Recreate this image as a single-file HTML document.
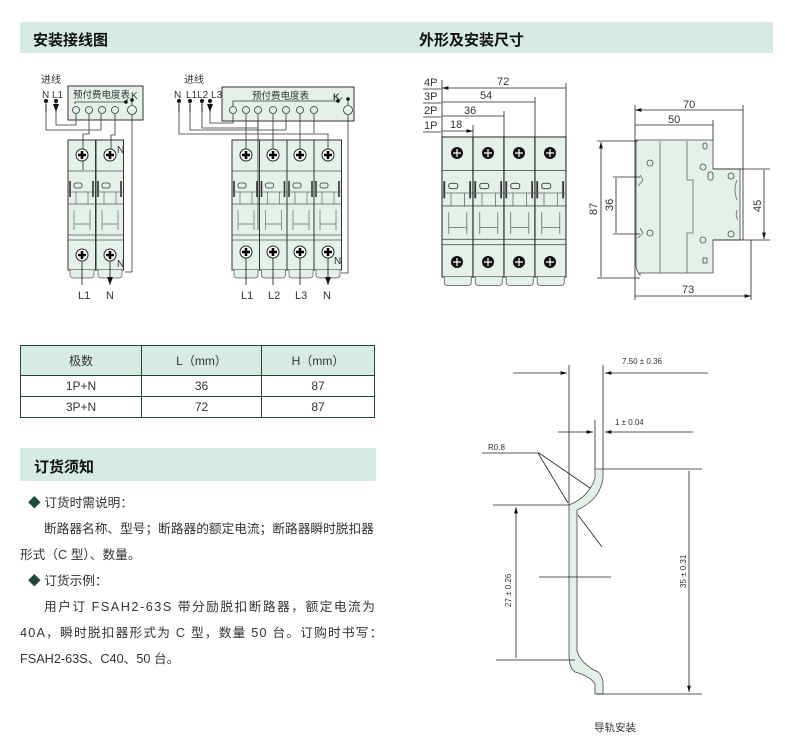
<!DOCTYPE html>
<html><head><meta charset="utf-8"><style>
body{margin:0;background:#fff;width:785px;height:744px;position:relative;overflow:hidden;font-family:"Liberation Sans","Noto Sans CJK SC",sans-serif;color:#222}
.band{position:absolute;background:#d6ebe1}
.h{position:absolute;font-weight:bold;font-size:15px;color:#111}
table{position:absolute;left:20px;top:345px;width:355px;border-collapse:collapse;font-size:12px;color:#333}
td{border:1.5px solid #1f4a35;text-align:center;height:20px;padding:0}
tr.hd td{background:#d6ebe1;height:29px}
.t{position:absolute;font-size:12.7px;color:#333;white-space:nowrap}
svg{position:absolute;left:0;top:0}
</style></head><body>
<div class="band" style="left:20px;top:22px;width:753px;height:31px"></div>
<div class="h" style="left:33px;top:29px">安装接线图</div>
<div class="h" style="left:419px;top:29px">外形及安装尺寸</div>

<table>
<tr class="hd"><td style="width:120px">极数</td><td style="width:119px">L（mm）</td><td>H（mm）</td></tr>
<tr><td>1P+N</td><td>36</td><td>87</td></tr>
<tr><td>3P+N</td><td>72</td><td>87</td></tr>
</table>

<div class="band" style="left:20px;top:448px;width:356px;height:33px"></div>
<div class="h" style="left:34px;top:456px">订货须知</div>
<div class="t" style="left:28px;top:492px"><span style="color:#1f4a35">◆</span> 订货时需说明：</div>
<div class="t" style="left:44px;top:518px">断路器名称、型号；断路器的额定电流；断路器瞬时脱扣器</div>
<div class="t" style="left:20px;top:544px">形式（C 型）、数量。</div>
<div class="t" style="left:28px;top:570px"><span style="color:#1f4a35">◆</span> 订货示例：</div>
<div class="t" style="left:44px;top:596px;letter-spacing:1.5px">用户订 FSAH2-63S 带分励脱扣断路器，额定电流为</div>
<div class="t" style="left:20px;top:622px;letter-spacing:1.2px">40A，瞬时脱扣器形式为 C 型，数量 50 台。订购时书写：</div>
<div class="t" style="left:20px;top:648px">FSAH2-63S、C40、50 台。</div>

<svg width="785" height="744" viewBox="0 0 785 744" font-family="Liberation Sans, Noto Sans CJK SC, sans-serif">
<defs>
<g id="sc"><circle r="6" fill="#fff" stroke="#222" stroke-width="1"/><path d="M-4 0H4M0 -4V4" stroke="#000" stroke-width="2.6"/></g>
<g id="scb"><circle r="6" fill="#111"/><path d="M-4 0H4M0 -4V4" stroke="#fff" stroke-width="1.2"/></g>
<g id="mod">
<rect x="0" y="0" width="27.5" height="130" fill="#e4f1e9" stroke="#333" stroke-width="1"/>
<path d="M0 31H27.5M0 64H27.5M0 95H27.5M0 100H27.5" stroke="#555" stroke-width="0.8" fill="none"/>
<path d="M2 41V57M25 41V57" stroke="#333" stroke-width="1.6"/>
<rect x="6" y="43" width="8" height="5" rx="2" fill="none" stroke="#333" stroke-width="0.8"/>
<path d="M0 52H27.5M8 52V64M20 52V64M6 70V90M22 70V90M6 84H22" stroke="#666" stroke-width="0.7" fill="none"/>
<path d="M2 130V135Q2 138 6 138H22Q26 138 26 135V130" fill="#e4f1e9" stroke="#555" stroke-width="0.7"/>
</g>
<marker id="ar" viewBox="0 0 8 6" refX="8" refY="3" markerWidth="8" markerHeight="6" markerUnits="userSpaceOnUse" orient="auto"><path d="M0 0L8 3L0 6Z" fill="#111"/></marker>
<marker id="ah" viewBox="0 0 10 6" refX="10" refY="3" markerWidth="8" markerHeight="5" orient="auto-start-reverse"><path d="M0 0L10 3L0 6Z" fill="#111"/></marker>
</defs>

<!-- Left wiring 1P+N -->
<g font-size="10" fill="#333">
<text x="41" y="83">进线</text>
<text x="42" y="98">N</text><text x="52" y="98">L1</text>
<rect x="68" y="86" width="75" height="34" fill="#e4f1e9" stroke="#333"/>
<text x="73" y="98" font-size="9.5">预付费电度表</text><text x="131" y="99">K</text>
<g fill="none" stroke="#333" stroke-width="0.8">
<circle cx="76" cy="110" r="3.5"/><circle cx="89" cy="110" r="3.5"/><circle cx="102" cy="110" r="3.5"/><circle cx="115" cy="110" r="3.5"/><circle cx="132" cy="110" r="4.5"/>
<path d="M75 104V102H124L128 99"/><path d="M132 100V105"/>
</g>
<circle cx="46" cy="101" r="2" fill="#111"/><circle cx="56" cy="101" r="2" fill="#111"/>
<circle cx="126" cy="102" r="1.8" fill="#111"/><circle cx="132" cy="100" r="1.8" fill="#111"/>
<g fill="none" stroke="#333" stroke-width="0.8">
<path d="M46 101V130H101V114"/><path d="M56 101V125H76V114"/>
<path d="M132 115V272"/>
</g>
<use href="#mod" x="68" y="140"/><use href="#mod" x="96" y="140"/>
<g fill="none" stroke="#333" stroke-width="0.8">
<path d="M89 114V134H83V170"/><path d="M115 114V135H111V155"/>
<path d="M125 272H132"/>
</g>
<use href="#sc" x="82" y="155"/><use href="#sc" x="110" y="155"/>
<use href="#sc" x="82" y="255"/><use href="#sc" x="110" y="255"/>
<text x="117" y="153" font-size="10">N</text><text x="117" y="267" font-size="10">N</text>
<path d="M46 104V112M56 104V112" stroke="#111" marker-end="url(#ar)"/>
<path d="M82 261V285M110 261V285" stroke="#111" stroke-width="0.8" marker-end="url(#ar)"/>
<text x="78" y="299" font-size="11">L1</text><text x="106" y="299" font-size="11">N</text>
</g>

<!-- Right wiring 3P+N -->
<g font-size="10" fill="#333">
<text x="184" y="83">进线</text>
<text x="174" y="98">N</text><text x="186" y="98">L1L2 L3</text>
<rect x="222" y="87" width="132" height="34" fill="#e4f1e9" stroke="#333"/>
<text x="252" y="99" font-size="9.5">预付费电度表</text><text x="333" y="100" font-size="9" font-weight="bold">K</text>
<g fill="none" stroke="#333" stroke-width="0.8">
<circle cx="233" cy="110" r="3.5"/><circle cx="246" cy="110" r="3.5"/><circle cx="258" cy="110" r="3.5"/><circle cx="273" cy="110" r="3.5"/><circle cx="286" cy="110" r="3.5"/><circle cx="300" cy="110" r="3.5"/><circle cx="314" cy="110" r="3.5"/><circle cx="348" cy="110" r="4.5"/>
<path d="M233 106V101H338L342 98"/><path d="M348 100V105"/>
</g>
<circle cx="179" cy="101" r="2" fill="#111"/><circle cx="190" cy="101" r="2" fill="#111"/><circle cx="202" cy="101" r="2" fill="#111"/><circle cx="210" cy="101" r="2" fill="#111"/>
<circle cx="338" cy="101" r="1.8" fill="#111"/><circle cx="348" cy="99" r="1.8" fill="#111"/>
<g fill="none" stroke="#333" stroke-width="0.8">
<path d="M179 101V134H328V148"/><path d="M190 101V130H286V114"/><path d="M202 101V128H258V114"/><path d="M210 101V123H233V114"/>
<path d="M314 114V133"/><path d="M348 115V273H341"/>
</g>
<use href="#mod" x="232" y="140"/><use href="#mod" x="259.5" y="140"/><use href="#mod" x="287" y="140"/><use href="#mod" x="314" y="140"/>
<g fill="none" stroke="#333" stroke-width="0.8">
<path d="M246 114V155M273 114V155M300 114V155M328 140V155"/>
<path d="M258 120V230"/>
</g>
<use href="#sc" x="246" y="155"/><use href="#sc" x="273" y="155"/><use href="#sc" x="300" y="155"/><use href="#sc" x="328" y="155"/>
<use href="#sc" x="246" y="252"/><use href="#sc" x="273" y="252"/><use href="#sc" x="300" y="252"/><use href="#sc" x="328" y="252"/>
<text x="334" y="264" font-size="10">N</text>
<path d="M179 104V112M190 104V112M202 104V112M210 104V112" stroke="#111" marker-end="url(#ar)"/>
<path d="M246 258V285M273 258V285M300 258V285M328 258V285" stroke="#111" stroke-width="0.8" marker-end="url(#ar)"/>
<text x="241" y="299" font-size="11">L1</text><text x="268" y="299" font-size="11">L2</text><text x="295" y="299" font-size="11">L3</text><text x="323" y="299" font-size="11">N</text>
</g>

<!-- Front dimension view -->
<g font-size="11" fill="#333">
<g transform="translate(442,137) scale(1.127,1.077)">
<use href="#mod" x="0" y="0"/><use href="#mod" x="27.5" y="0"/><use href="#mod" x="55" y="0"/><use href="#mod" x="82.5" y="0"/>
</g>
<use href="#scb" x="457" y="153"/><use href="#scb" x="488" y="153"/><use href="#scb" x="519" y="153"/><use href="#scb" x="550" y="153"/>
<use href="#scb" x="457" y="262"/><use href="#scb" x="488" y="262"/><use href="#scb" x="519" y="262"/><use href="#scb" x="550" y="262"/>
<g stroke="#222" stroke-width="0.8" fill="none">
<path d="M473 125V245M504 111V245M535 97V245M566 83V137"/>
<path d="M442 88H566M442 102H535M442 116H504M442 131H473" marker-end="url(#ah)" marker-start="url(#ah)"/>
<path d="M442 80V137"/>
<path d="M423 89H441M423 103H441M423 117H441M423 132H441"/>
</g>
<text x="424" y="86">4P</text><text x="424" y="100">3P</text><text x="424" y="114">2P</text><text x="424" y="129">1P</text>
<text x="497" y="85">72</text><text x="480" y="99">54</text><text x="464" y="114">36</text><text x="450" y="128">18</text>
</g>

<!-- Side view -->
<g font-size="11" fill="#333">
<path d="M638 140H713V169H740V240H713V273H640V275Q636 270 636 266V140Z" fill="#e4f1e9" stroke="#444" stroke-width="0.8"/>
<g stroke="#666" stroke-width="0.8" fill="none">
<path d="M660 141V273M687 141V180H693V233H687V273"/>
<path d="M640 175L643 180L638 186M640 228L643 233L638 238"/>
<path d="M737 180Q733 190 737 200M737 210Q735 216 738 220"/>
</g>
<g fill="none" stroke="#444" stroke-width="0.8">
<circle cx="650" cy="163" r="3"/><circle cx="650" cy="233" r="3"/><circle cx="703" cy="167" r="3"/><circle cx="703" cy="240" r="3"/>
<circle cx="731" cy="176" r="3"/><circle cx="731" cy="234" r="3"/><rect x="708" y="172" width="5" height="8" rx="2"/><rect x="703" y="143" width="4" height="6" rx="2"/><rect x="703" y="258" width="4" height="5"/>
</g>
<g stroke="#222" stroke-width="0.8" fill="none">
<path d="M635 105V300M743 105V240M713 120V140M751 240V300"/>
<path d="M635 110H743M635 125H713M635 296H751" marker-end="url(#ah)" marker-start="url(#ah)"/>
<path d="M597 141H638M597 278H640M613 177H640M613 234H640M713 169H770M713 240H770"/>
<path d="M601 142V277M616 178V233M764 170V239" marker-end="url(#ah)" marker-start="url(#ah)"/>
</g>
<text x="683" y="108">70</text><text x="668" y="123">50</text><text x="682" y="293">73</text>
<text transform="translate(597,215) rotate(-90)">87</text>
<text transform="translate(613,211) rotate(-90)">36</text>
<text transform="translate(761,212) rotate(-90)">45</text>
</g>

<!-- DIN rail -->
<g fill="#333" stroke="#222" stroke-width="0.8">
<path d="M569 365V505M603 365V469" fill="none"/>
<path d="M513 373H567" fill="none" marker-end="url(#ah)"/><path d="M708 373H605" fill="none" marker-end="url(#ah)"/>
<path d="M558 432H593" fill="none" marker-end="url(#ah)"/><path d="M693 432H605" fill="none" marker-end="url(#ah)"/>
<path d="M595 420V469" fill="none"/>
<path d="M595 469H603V478Q600 500 577 510V651Q581 664 598 672Q603 676 603 684V694H595V684Q590 676 575 672Q569 668 569 655V505Q589 497 595 478Z" fill="#e2f0e8" stroke="#444"/>
<path d="M603 469H702M493 505H569M496 660H575M596 694H702M539 577H611" fill="none"/>
<path d="M482 453H539L590 488M538 453L568 503M578 515L602 547" fill="none"/>
<path d="M516 507V658M689 471V692" fill="none" marker-end="url(#ah)" marker-start="url(#ah)"/>
<g stroke="none" font-size="8">
<text x="622" y="364">7.50 ± 0.36</text>
<text x="615" y="425">1 ± 0.04</text>
<text x="488" y="450">R0.8</text>
<text transform="translate(511,607) rotate(-90)">27 ± 0.26</text>
<text transform="translate(686,588) rotate(-90)">35 ± 0.31</text>
<text x="594" y="731" font-size="10.5">导轨安装</text>
</g>
</g>
</svg>
</body></html>
